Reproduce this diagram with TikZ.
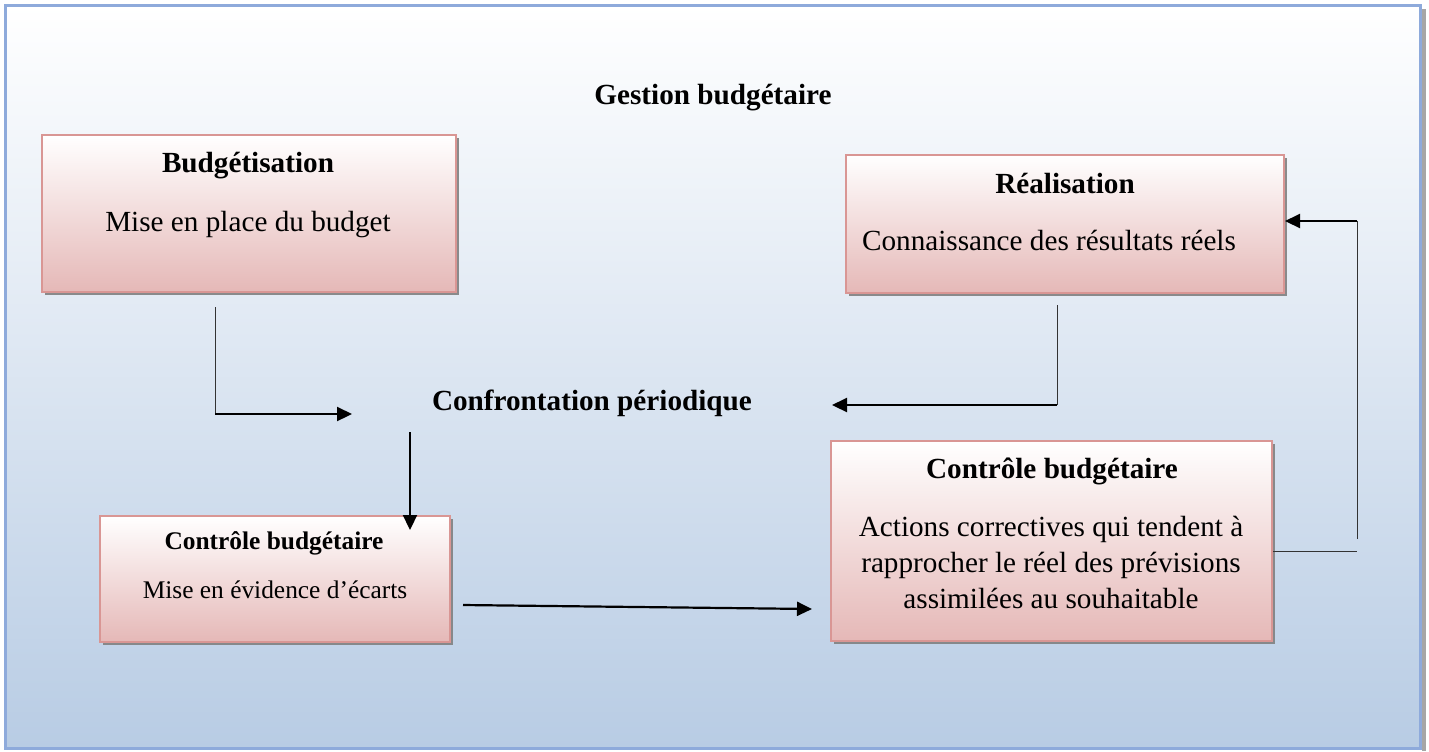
\documentclass[tikz,border=0pt]{standalone}
\usepackage{fontspec}
\setmainfont{Liberation Serif}
\usetikzlibrary{positioning,arrows.meta,shadows}

\definecolor{cadrebleu}{RGB}{142,170,219}
\definecolor{fondbas}{RGB}{184,204,228}
\definecolor{rosebord}{RGB}{217,150,148}
\definecolor{rosebas}{RGB}{229,184,183}

\begin{document}
\begin{tikzpicture}[x=0.5pt, y=-0.5pt,
  bloc/.style={draw=rosebord, line width=0.8pt, inner sep=0pt, top color=white, bottom color=rosebas,
  drop shadow={shadow xshift=1.6pt, shadow yshift=-1.6pt, fill=black!50, opacity=0.9}},
  titre/.style={anchor=base, inner sep=0pt, font=\fontsize{14.6}{18}\selectfont\bfseries},
  texte/.style={anchor=base, inner sep=0pt, align=center, font=\fontsize{14.6}{18}\selectfont},
  petit/.style={anchor=base, inner sep=0pt, font=\fontsize{12.7}{15}\selectfont},
  fleche/.style={line width=1.1pt, -{Triangle[length=7.5pt,width=7pt]}},
  trait/.style={line width=0.5pt, draw=black!80}]
  \useasboundingbox (0,0) rectangle (1429,751);
  % cadre
  \fill[black!35] (1422,9) rectangle (1426,751);
  \draw[cadrebleu, line width=1.5pt, top color=white, bottom color=fondbas] (5.5,5.5) rectangle (1420.5,748);
  \node[titre] (gestion) at (713,104) {Gestion budgétaire};

  % blocs
  \node[bloc, minimum width=207pt, minimum height=78.5pt] (budget) at (249,213.5) {};
  \node[bloc, minimum width=219pt, minimum height=69pt] (real) at (1065,224) {};
  \node[bloc, minimum width=175pt, minimum height=63pt] (ctrlg) at (275,579) {};
  \node[bloc, minimum width=220.5pt, minimum height=100pt] (ctrld) at (1051.5,541) {};

  \node[titre] (budgettitre) at (248,172) {Budgétisation};
  \node[texte] (budgettexte) at (248,231) {Mise en place du budget};
  \node[titre] (realtitre) at (1065,193) {Réalisation};
  \node[texte] (realtexte) at (1049,250) {Connaissance des résultats réels};
  \node[titre, font=\fontsize{12.7}{15}\selectfont\bfseries] (ctrlgtitre) at (274,549) {Contrôle budgétaire};
  \node[petit] (ctrlgtexte) at (275,598) {Mise en évidence d’écarts};
  \node[titre] (ctrldtitre) at (1052,478) {Contrôle budgétaire};
  \node[texte, anchor=center] (ctrldtexte) at (1051,562) {Actions correctives qui tendent à\\
    rapprocher le réel des prévisions\\assimilées au souhaitable};
  \node[titre] (confr) at (592,410) {Confrontation périodique};

  % liaisons
  \coordinate (b1) at (215,307); \coordinate (b2) at (215,414); \coordinate (b3) at (352,414);
  \coordinate (r1) at (1057,305); \coordinate (r2) at (1057,405); \coordinate (r3) at (832,405);
  \coordinate (c1) at (410,432); \coordinate (c2) at (410,530);
  \coordinate (e1) at (463,605); \coordinate (e2) at (812,609);
  \coordinate (a2) at (1357,551); \coordinate (a3) at (1357,539); \coordinate (a4) at (1357,221);
  \coordinate (a5) at (1285,221);
  \draw[trait] (b1) -- (b2); \draw[fleche] (b2) -- (b3);
  \draw[trait] (r1) -- (r2); \draw[fleche] (r2) -- (r3);
  \draw[fleche] (c1) -- (c2);
  \draw[fleche] (e1) -- (e2);
  \draw[trait] (ctrld.east |- a2) -- (a2); \draw[trait] (a3) -- (a4); \draw[fleche] (a4) -- (a5);
\end{tikzpicture}
\end{document}
